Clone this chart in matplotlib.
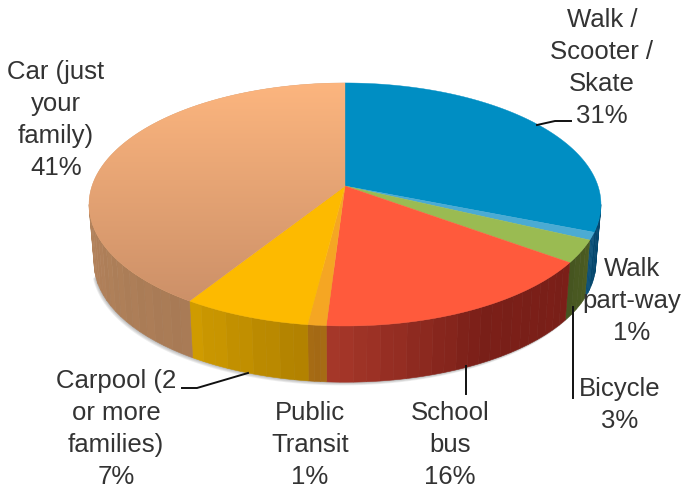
import numpy as np
import matplotlib
matplotlib.use("Agg")
import matplotlib.pyplot as plt
from matplotlib.patches import Polygon

categories = ["Walk /\nScooter /\nSkate", "Walk\npart-way", "Bicycle", "School\nbus",
              "Public\nTransit", "Carpool (2\nor more\nfamilies)", "Car (just\nyour\nfamily)"]
values = [31, 1, 3, 16, 1, 7, 41]
top_colors = ["#008ec3", "#4babd3", "#9abb52", "#ff5a3c", "#f5a623", "#fdba00", "#e0a070"]
wall_start = ["#0a5f8e", "#0a5078", "#4c5c22", "#7a1f18", "#a56a14", "#b08000", "#a87a55"]
wall_end = ["#04466c", "#0a5078", "#465520", "#a8382a", "#a56a14", "#d09c00", "#c89468"]
label_x = [602, 632, 620, 450, 310, 116, 56]
label_y = [68, 301, 405, 445, 445, 429, 120]

# perspective of the pie, in pixels
cx, cy = 345, 187
a, b, k = 253, 118.7, 0.152
depth = 59
shrink = 0.98


def project(theta):
    x = np.sin(theta)
    y = np.cos(theta)
    w = 1 + k * y
    return cx + a * x / w, cy - b * y / w


def project_low(theta):
    x, y = project(theta)
    return cx + (x - cx) * shrink, cy + depth + (y - cy) * shrink


def to_rgb(c):
    return np.array(matplotlib.colors.to_rgb(c))


fig = plt.figure(figsize=(6.82, 4.89), dpi=100)
ax = fig.add_axes([0, 0, 1, 1])
ax.set_xlim(0, 682)
ax.set_ylim(489, 0)
ax.axis("off")

edges = 2 * np.pi * np.cumsum([0] + values) / sum(values)

# soft shadow under the front edge
front = np.arccos(-k)
th = np.linspace(front, 2 * np.pi - front - 0.1, 300)
xs, ys = project_low(th)
for off in [4, 3, 2, 1]:
    ax.fill(xs - off * 0.6, ys + off * 0.8, color="black", alpha=0.07, lw=0, zorder=1)

# side wall, drawn as bands
for i in range(len(values)):
    n = max(3, int(values[i] * 1.4))
    t = np.linspace(edges[i], edges[i + 1], n + 1)
    c0, c1 = to_rgb(wall_start[i]), to_rgb(wall_end[i])
    for j in range(n):
        tt = np.clip(np.linspace(t[j], t[j + 1], 8), front, 2 * np.pi - front)
        if tt[0] == tt[-1]:
            continue
        x, y = project(tt)
        x2, y2 = project_low(tt)
        f = (j + 0.5) / n
        if categories[i].startswith("School"):
            f = max(0, (f - 0.45) / 0.55)
        col = c0 + (c1 - c0) * f
        col = np.clip(col * (1 + 0.006 * (-1) ** j), 0, 1)
        pts = np.r_[np.c_[x, y], np.c_[x2[::-1], y2[::-1]]]
        ax.add_patch(Polygon(pts, closed=True, fc=col, ec=col, lw=0.4, zorder=2))

# top faces
for i in range(len(values)):
    tt = np.linspace(edges[i], edges[i + 1], 200)
    x, y = project(tt)
    pts = np.r_[[[cx, cy]], np.c_[x, y]]
    p = Polygon(pts, closed=True, fc=top_colors[i], ec=top_colors[i], lw=0.3, zorder=3)
    ax.add_patch(p)
    if i == len(values) - 1:
        grad = np.linspace(0, 1, 256)[:, None, None]
        img = (1 - grad) * to_rgb("#fdb67f") + grad * to_rgb("#cc9068")
        im = ax.imshow(img, extent=(80, 350, 305, 80), aspect="auto", zorder=3.1)
        im.set_clip_path(p)

ax.set_xlim(0, 682)
ax.set_ylim(489, 0)

# leader lines
ax.plot([537, 555, 571], [126, 122, 122], color="#111111", lw=1.4, zorder=4)
ax.plot([182, 197, 248], [389, 389, 374], color="#111111", lw=1.4, zorder=4)
ax.plot([466, 466], [367, 395], color="#111111", lw=1.4, zorder=4)
ax.plot([573, 573], [308, 399], color="#111111", lw=1.4, zorder=4)

for name, v, lx, ly in zip(categories, values, label_x, label_y):
    ax.text(lx, ly, f"{name}\n{v}%", ha="center", va="center", fontsize=18.5,
            family="Liberation Sans", color="#333333", linespacing=1.43, zorder=5)

fig.savefig("out.png", dpi=100)
